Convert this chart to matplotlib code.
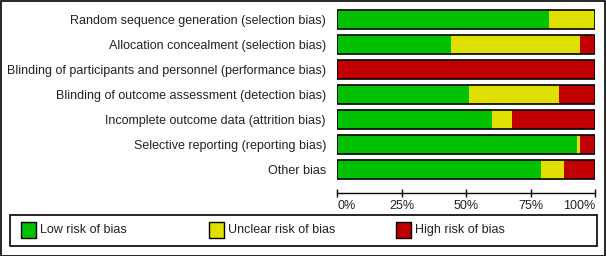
import matplotlib.pyplot as plt
from matplotlib.patches import Rectangle
import numpy as np

plt.rcParams['font.family'] = ['Liberation Sans', 'DejaVu Sans']

categories = [
    'Random sequence generation (selection bias)',
    'Allocation concealment (selection bias)',
    'Blinding of participants and personnel (performance bias)',
    'Blinding of outcome assessment (detection bias)',
    'Incomplete outcome data (attrition bias)',
    'Selective reporting (reporting bias)',
    'Other bias',
]
low = [82, 44, 0, 51, 60, 93, 79]
unclear = [18, 50, 0, 35, 8, 1, 9]
high = [0, 6, 100, 14, 32, 6, 12]

tick_vals = [0, 25, 50, 75, 100]
tick_labels = ['0%', '25%', '50%', '75%', '100%']
legend_labels = ['Low risk of bias', 'Unclear risk of bias', 'High risk of bias']
colors = ['#00C000', '#E0E000', '#C00000']

W, H = 606, 256
fig = plt.figure(figsize=(W / 100, H / 100), dpi=100)

# bar area in pixels: x 337..595, y 7..182 (from top)
ax = fig.add_axes([337 / W, (H - 182) / H, 258 / W, 175 / H])

y = np.arange(len(categories))
low = np.array(low)
unclear = np.array(unclear)
high = np.array(high)
bh = 0.76
ax.barh(y, low, height=bh, color=colors[0], linewidth=0)
ax.barh(y, unclear, left=low, height=bh, color=colors[1], linewidth=0)
ax.barh(y, high, left=low + unclear, height=bh, color=colors[2], linewidth=0)
ax.barh(y, low + unclear + high, height=bh, fill=False, edgecolor='black', linewidth=1.2)

ax.set_xlim(0, 100)
ax.set_ylim(len(categories) - 0.5, -0.5)
ax.set_yticks(y)
ax.set_yticklabels(categories, fontsize=9, color='#222222')
ax.tick_params(axis='y', length=0, pad=8)

ax.set_xticks(tick_vals)
ax.tick_params(axis='x', direction='inout', length=6, width=1, labelbottom=False)
# end labels sit inside the axis span, like the original
aligns = ['left'] + ['center'] * (len(tick_vals) - 2) + ['right']
for v, lab, ha in zip(tick_vals, tick_labels, aligns):
    ax.text(v, -0.105, lab, transform=ax.get_xaxis_transform(), ha=ha, va='top',
            fontsize=9, color='#222222')

for s in ['top', 'right', 'left']:
    ax.spines[s].set_visible(False)
ax.spines['bottom'].set_position(('outward', 8))
ax.spines['bottom'].set_linewidth(1)

# outer frame
fig.patches.append(Rectangle((1 / W, 0.5 / H), (W - 2) / W, (H - 1.5) / H,
                             transform=fig.transFigure, fill=False,
                             edgecolor='black', linewidth=1.2))

# legend box
fig.patches.append(Rectangle((10 / W, (H - 246) / H), 587 / W, 31 / H,
                             transform=fig.transFigure, fill=False,
                             edgecolor='black', linewidth=1.2))
px = [21, 209, 396]
for x0, c, lab in zip(px, colors, legend_labels):
    fig.patches.append(Rectangle((x0 / W, (H - 238) / H), 15 / W, 16 / H,
                                 transform=fig.transFigure, facecolor=c,
                                 edgecolor='black', linewidth=1))
    fig.text((x0 + 19) / W, (H - 230) / H, lab, fontsize=9, color='#222222',
             ha='left', va='center')

fig.savefig('out.png', dpi=100)
